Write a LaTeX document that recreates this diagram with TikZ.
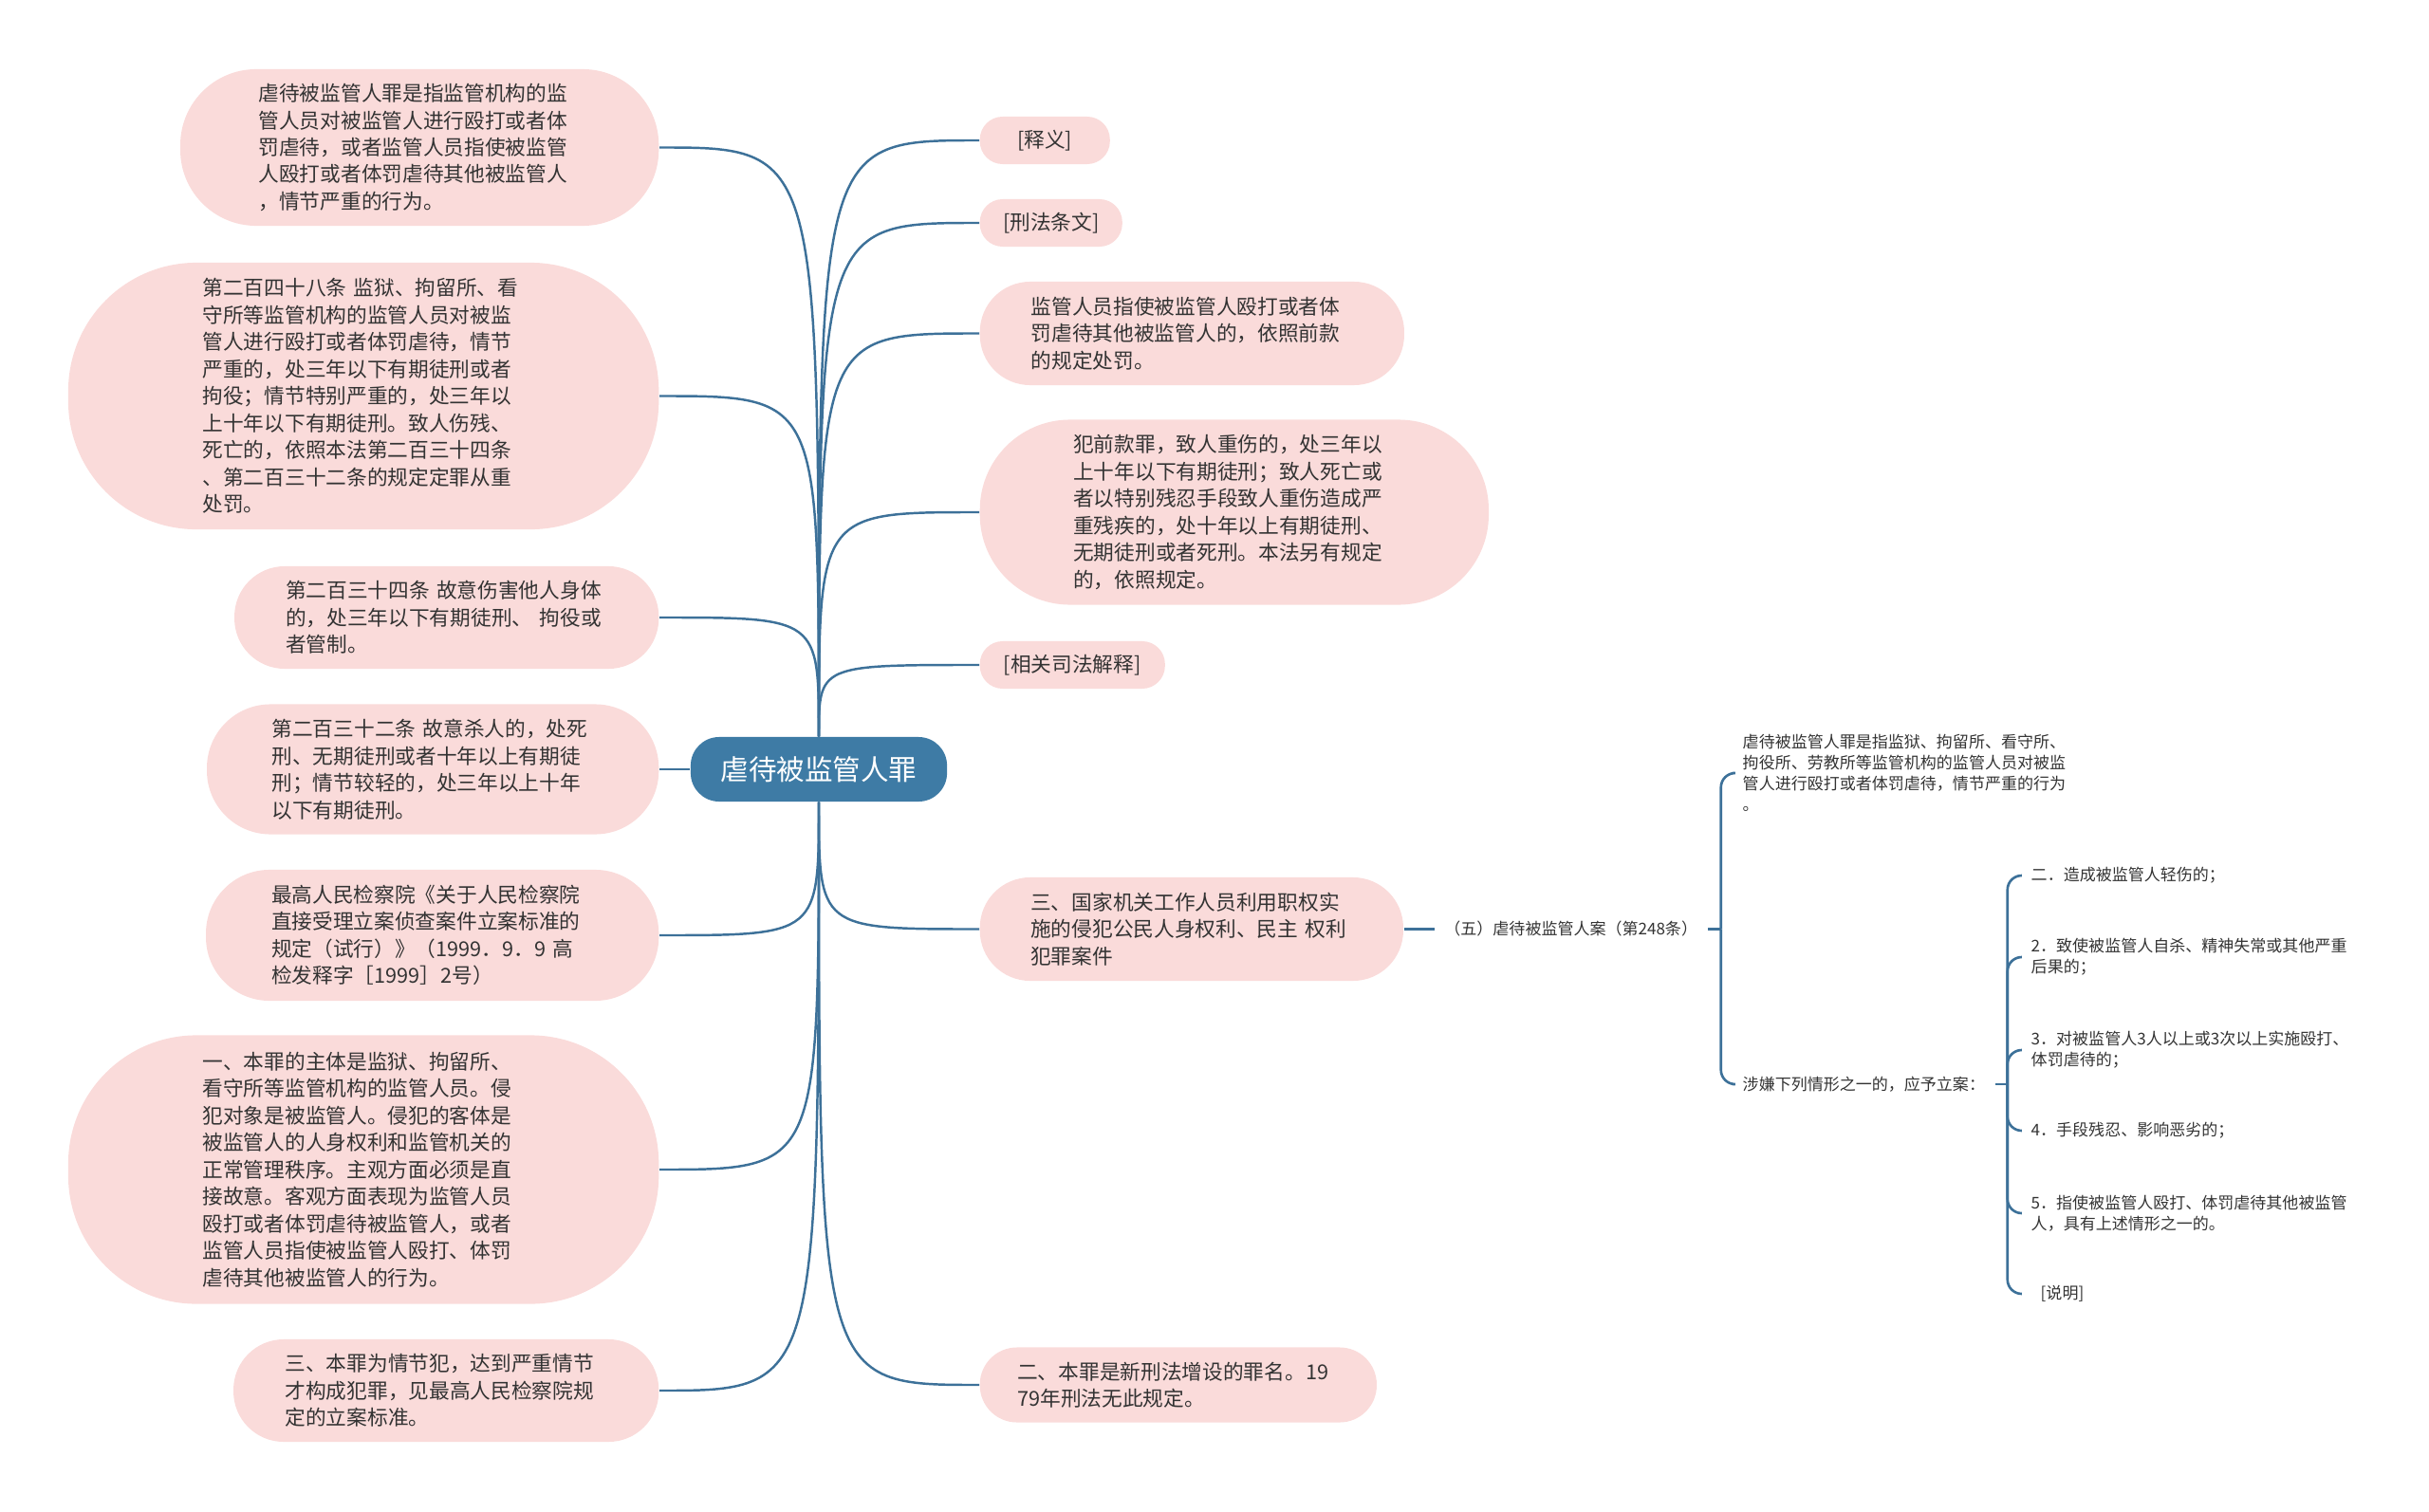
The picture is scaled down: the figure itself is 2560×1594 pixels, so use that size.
\documentclass[tikz,border=0pt]{standalone}
\usepackage{fontspec}
\setmainfont{Noto Sans CJK SC}
\usepackage{tikz}
\usetikzlibrary{positioning}
\definecolor{rootblue}{HTML}{3E7BA5}
\definecolor{lineblue}{HTML}{3D7199}
\definecolor{leafpink}{HTML}{FADBDA}
\definecolor{inkgray}{HTML}{333333}
\tikzset{
    topic/.style={
        fill=rootblue,
        text=white,
        rounded corners=0.3cm,
        minimum width=2.7cm,
        minimum height=0.68cm,
        inner sep=0pt,
        font=\fontsize{8.4pt}{10pt}\selectfont
    },
    leaf/.style={
        fill=leafpink,
        text=inkgray,
        text width=3.39cm,
        align=left,
        inner sep=0pt,
        font=\fontsize{6.17pt}{8.1pt}\selectfont
    },
    tag/.style={
        fill=leafpink,
        text=inkgray,
        minimum height=0.5cm,
        rounded corners=0.24cm,
        inner sep=0pt,
        font=\fontsize{6.17pt}{8.1pt}\selectfont
    },
    note/.style={
        text=inkgray,
        align=left,
        inner xsep=0.1cm,
        inner ysep=0pt,
        font=\fontsize{4.84pt}{6.26pt}\selectfont
    },
    branch/.style={
        draw=lineblue,
        line width=0.7pt
    },
    brace/.style={
        draw=lineblue,
        line width=0.75pt,
        rounded corners=0.15cm
    }
}

\begin{document}
\begin{tikzpicture}[x=0.01cm, y=-0.01cm]
    \useasboundingbox (0,0) rectangle (2560,1594);

    \node[topic] (root) at (863,811) {虐待被监管人罪};

    % left side
    \node[leaf, anchor=east, minimum width=5.04cm, minimum height=1.65cm, rounded corners=0.8cm] (meaning) at (695,155.5) {虐待被监管人罪是指监管机构的监\\管人员对被监管人进行殴打或者体\\罚虐待，或者监管人员指使被监管\\人殴打或者体罚虐待其他被监管人\\，情节严重的行为。};
    \node[leaf, anchor=east, minimum width=6.22cm, minimum height=2.81cm, rounded corners=1.35cm] (art248) at (695,417.5) {第二百四十八条 监狱、拘留所、看\\守所等监管机构的监管人员对被监\\管人进行殴打或者体罚虐待，情节\\严重的，处三年以下有期徒刑或者\\拘役；情节特别严重的，处三年以\\上十年以下有期徒刑。致人伤残、\\死亡的，依照本法第二百三十四条\\、第二百三十二条的规定定罪从重\\处罚。};
    \node[leaf, anchor=east, minimum width=4.47cm, minimum height=1.08cm, rounded corners=0.53cm] (art234) at (695,651) {第二百三十四条 故意伤害他人身体\\的，处三年以下有期徒刑、 拘役或\\者管制。};
    \node[leaf, anchor=east, minimum width=4.76cm, minimum height=1.37cm, rounded corners=0.67cm] (art232) at (695,811) {第二百三十二条 故意杀人的，处死\\刑、无期徒刑或者十年以上有期徒\\刑；情节较轻的，处三年以上十年\\以下有期徒刑。};
    \node[leaf, anchor=east, minimum width=4.77cm, minimum height=1.38cm, rounded corners=0.67cm] (spp) at (695,986) {最高人民检察院《关于人民检察院\\直接受理立案侦查案件立案标准的\\规定（试行）》（1999．9．9 高\\检发释字［1999］2号）};
    \node[leaf, anchor=east, minimum width=6.22cm, minimum height=2.83cm, rounded corners=1.35cm] (elem) at (695,1233) {一、本罪的主体是监狱、拘留所、\\看守所等监管机构的监管人员。侵\\犯对象是被监管人。侵犯的客体是\\被监管人的人身权利和监管机关的\\正常管理秩序。主观方面必须是直\\接故意。客观方面表现为监管人员\\殴打或者体罚虐待被监管人，或者\\监管人员指使被监管人殴打、体罚\\虐待其他被监管人的行为。};
    \node[leaf, anchor=east, minimum width=4.48cm, minimum height=1.08cm, rounded corners=0.53cm] (circ) at (695,1466) {三、本罪为情节犯，达到严重情节\\才构成犯罪，见最高人民检察院规\\定的立案标准。};

    % right side
    \node[tag, anchor=west, minimum width=1.37cm] (shiyi) at (1032,148) {[释义]};
    \node[tag, anchor=west, minimum width=1.50cm] (xingfa) at (1032,235) {[刑法条文]};
    \node[leaf, anchor=west, minimum width=4.47cm, minimum height=1.09cm, rounded corners=0.53cm] (clause2) at (1032,351.5) {监管人员指使被监管人殴打或者体\\罚虐待其他被监管人的，依照前款\\的规定处罚。};
    \node[leaf, anchor=west, minimum width=5.36cm, minimum height=1.95cm, rounded corners=0.95cm] (clause3) at (1032,540) {犯前款罪，致人重伤的，处三年以\\上十年以下有期徒刑；致人死亡或\\者以特别残忍手段致人重伤造成严\\重残疾的，处十年以上有期徒刑、\\无期徒刑或者死刑。本法另有规定\\的，依照规定。};
    \node[tag, anchor=west, minimum width=1.95cm] (jieshi) at (1032,701) {[相关司法解释]};
    \node[leaf, anchor=west, minimum width=4.46cm, minimum height=1.09cm, rounded corners=0.53cm] (case) at (1032,979.5) {三、国家机关工作人员利用职权实\\施的侵犯公民人身权利、民主 权利\\犯罪案件};
    \node[leaf, anchor=west, minimum width=4.18cm, minimum height=0.79cm, rounded corners=0.39cm] (newlaw) at (1032,1460) {二、本罪是新刑法增设的罪名。19\\79年刑法无此规定。};

    % case tree
    \node[note, right=0.32cm of case] (case5) {（五）虐待被监管人案（第248条）};
    \coordinate[right=0.14cm of case5] (j5);
    \node[note, anchor=west] (case5def) at (1826,815) {虐待被监管人罪是指监狱、拘留所、看守所、\\拘役所、劳教所等监管机构的监管人员对被监\\管人进行殴打或者体罚虐待，情节严重的行为\\。};
    \node[note, anchor=west] (case5std) at (1826,1143) {涉嫌下列情形之一的，应予立案：};
    \coordinate[right=0.13cm of case5std] (jstd);
    \node[note, anchor=west] (std1) at (2130,923) {二．造成被监管人轻伤的；};
    \node[note, anchor=west] (std2) at (2130,1009) {2．致使被监管人自杀、精神失常或其他严重\\后果的；};
    \node[note, anchor=west] (std3) at (2130,1107) {3．对被监管人3人以上或3次以上实施殴打、\\体罚虐待的；};
    \node[note, anchor=west] (std4) at (2130,1192) {4．手段残忍、影响恶劣的；};
    \node[note, anchor=west] (std5) at (2130,1279) {5．指使被监管人殴打、体罚虐待其他被监管\\人，具有上述情形之一的。};
    \node[note, anchor=west] (std6) at (2140,1364) {[说明]};

    \path[branch] (root.north) .. controls (root.north |- meaning.east) .. (meaning.east);
    \path[branch] (root.north) .. controls (root.north |- art248.east) .. (art248.east);
    \path[branch] (root.north) .. controls (root.north |- art234.east) .. (art234.east);
    \path[branch] (root.west) -- (art232.east);
    \path[branch] (root.south) .. controls (root.south |- spp.east) .. (spp.east);
    \path[branch] (root.south) .. controls (root.south |- elem.east) .. (elem.east);
    \path[branch] (root.south) .. controls (root.south |- circ.east) .. (circ.east);
    \path[branch] (root.north) .. controls (root.north |- shiyi.west) .. (shiyi.west);
    \path[branch] (root.north) .. controls (root.north |- xingfa.west) .. (xingfa.west);
    \path[branch] (root.north) .. controls (root.north |- clause2.west) .. (clause2.west);
    \path[branch] (root.north) .. controls (root.north |- clause3.west) .. (clause3.west);
    \path[branch] (root.north) .. controls (root.north |- jieshi.west) .. (jieshi.west);
    \path[branch] (root.south) .. controls (root.south |- case.west) .. (case.west);
    \path[branch] (root.south) .. controls (root.south |- newlaw.west) .. (newlaw.west);

    \path[brace] (case.east) -- (case5.west);
    \path[brace] (case5.east) -- (j5);
    \path[brace] (j5) |- (case5def.west);
    \path[brace] (j5) |- (case5std.west);
    \path[brace] (case5std.east) -- (jstd);
    \path[brace] (jstd) |- (std1.west);
    \path[brace] (jstd) |- (std2.west);
    \path[brace] (jstd) |- (std3.west);
    \path[brace] (jstd) |- (std4.west);
    \path[brace] (jstd) |- (std5.west);
    \path[brace] (jstd) |- ([xshift=-0.1cm]std6.west);
\end{tikzpicture}
\end{document}
